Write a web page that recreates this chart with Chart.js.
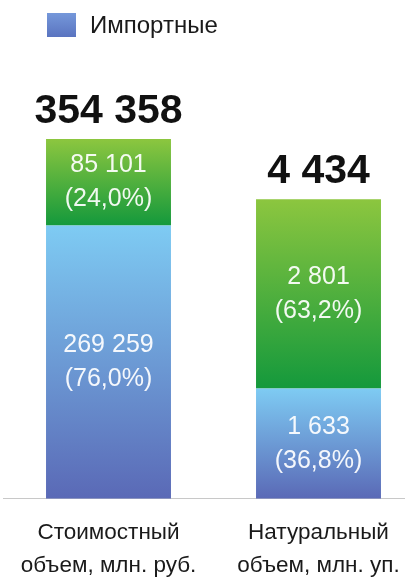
<!DOCTYPE html>
<html>
<head>
<meta charset="utf-8">
<script src="https://cdn.jsdelivr.net/npm/chart.js@4.4.0/dist/chart.umd.min.js"></script>
<style>
  html, body { margin: 0; padding: 0; background: #fff; overflow: hidden; }
  #wrap { width: 405px; height: 581px; overflow: hidden; }
  canvas { display: block; }
</style>
</head>
<body>
<div id="wrap"><canvas id="chart" width="430" height="601"></canvas></div>
<script>
// data
const categories = [['Стоимостный', 'объем, млн. руб.'], ['Натуральный', 'объем, млн. уп.']];
const totals = [354358, 4434];
const imported = [269259, 1633];
const importedShare = [76.0, 36.8];
const other = [85101, 2801];
const otherShare = [24.0, 63.2];
const legendLabel = 'Импортные';

const blue = ['#7ecbf3', '#5a69b6'];
const green = ['#8cc63f', '#14993c'];

const fmt = n => n.toString().replace(/\B(?=(\d{3})+(?!\d))/g, ' ');
const pct = v => '(' + v.toFixed(1).replace('.', ',') + '%)';

// each bar gets its own hidden value axis, so the two totals are not drawn to one scale
const axisIds = ['y', 'y2'];
const datasets = [];
categories.forEach((c, i) => {
    const only = v => categories.map((_, j) => (j === i ? v : null));
    datasets.push({
        label: legendLabel,
        data: only(imported[i]),
        share: only(importedShare[i]),
        colors: blue,
        yAxisID: axisIds[i],
        stack: 's'
    });
    datasets.push({
        label: 'other',
        data: only(other[i]),
        share: only(otherShare[i]),
        colors: green,
        yAxisID: axisIds[i],
        stack: 's'
    });
});

const barDecor = {
    id: 'barDecor',
    beforeDatasetsDraw(chart) {
        const ctx = chart.ctx;
        chart.data.datasets.forEach((ds, di) => {
            chart.getDatasetMeta(di).data.forEach((el, i) => {
                if (ds.data[i] == null) return;
                const g = ctx.createLinearGradient(0, el.y, 0, el.base);
                g.addColorStop(0, ds.colors[0]);
                g.addColorStop(1, ds.colors[1]);
                el.options.backgroundColor = g;
            });
        });
    },
    afterDatasetsDraw(chart) {
        const ctx = chart.ctx;
        ctx.save();
        ctx.textAlign = 'center';
        ctx.textBaseline = 'middle';
        ctx.fillStyle = 'rgba(255,255,255,0.93)';
        ctx.font = '25px "Liberation Sans", Arial, sans-serif';
        chart.data.datasets.forEach((ds, di) => {
            chart.getDatasetMeta(di).data.forEach((el, i) => {
                if (ds.data[i] == null) return;
                const mid = (el.y + el.base) / 2;
                ctx.fillText(fmt(ds.data[i]), el.x, mid - 17);
                ctx.fillText(pct(ds.share[i]), el.x, mid + 17);
            });
        });
        // totals above each bar
        ctx.fillStyle = '#111';
        ctx.font = 'bold 41px "Liberation Sans", Arial, sans-serif';
        ctx.textBaseline = 'alphabetic';
        chart.data.datasets.forEach((ds, di) => {
            if (ds.colors !== green) return;
            chart.getDatasetMeta(di).data.forEach((el, i) => {
                if (ds.data[i] == null) return;
                ctx.fillText(fmt(totals[i]), el.x, el.y - 16);
            });
        });
        ctx.restore();
    },
    afterDraw(chart) {
        const ctx = chart.ctx;
        ctx.save();
        const g = ctx.createLinearGradient(0, 13, 0, 37);
        g.addColorStop(0, '#7598da');
        g.addColorStop(1, '#5a74c0');
        ctx.fillStyle = g;
        ctx.fillRect(47, 13, 29, 24);
        ctx.fillStyle = '#1a1a1a';
        ctx.font = '24px "Liberation Sans", Arial, sans-serif';
        ctx.textBaseline = 'alphabetic';
        ctx.fillText(legendLabel, 90, 33);
        ctx.restore();
    }
};

new Chart(
    document.getElementById('chart'),
    {
        type: 'bar',
        data: {
            labels: categories,
            datasets: datasets
        },
        options: {
            responsive: false,
            animation: false,
            barPercentage: 1,
            categoryPercentage: 0.595,
            layout: {
                padding: { left: 3.5, right: 6.5, top: 60, bottom: 2 }
            },
            plugins: {
                legend: { display: false },
                tooltip: { enabled: false }
            },
            scales: {
                x: {
                    stacked: true,
                    grid: { display: false, drawTicks: false },
                    border: { display: true, color: '#c8c8c8', width: 1 },
                    ticks: {
                        color: '#1a1a1a',
                        padding: 17,
                        maxRotation: 0,
                        font: { family: '"Liberation Sans", Arial, sans-serif', size: 22.5, lineHeight: 1.47 }
                    }
                },
                y: { stacked: true, display: false, min: 0, max: 432300 },
                y2: { stacked: true, display: false, min: 0, max: 6495 }
            }
        },
        plugins: [barDecor]
    }
);
</script>
</body>
</html>
